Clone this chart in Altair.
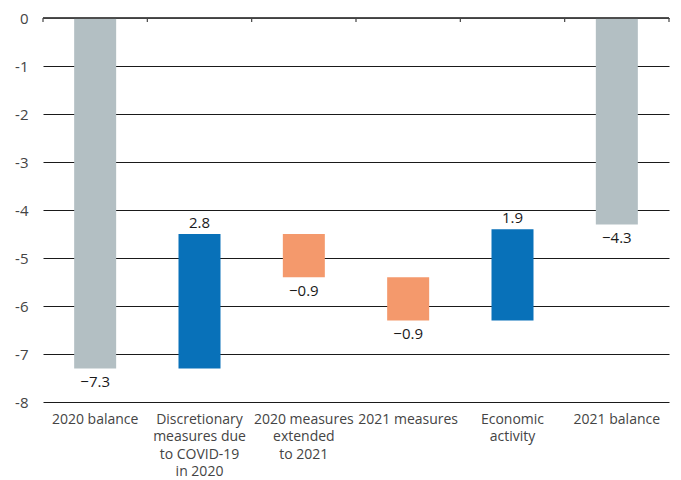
import altair as alt
import pandas as pd

cats = ["2020 balance",
        "Discretionary\nmeasures due\nto COVID-19\nin 2020",
        "2020 measures\nextended\nto 2021",
        "2021 measures",
        "Economic\nactivity",
        "2021 balance"]
starts = [0, -7.3, -4.5, -5.4, -6.3, 0]
ends = [-7.3, -4.5, -5.4, -6.3, -4.4, -4.3]
kinds = ["balance", "increase", "decrease", "decrease", "increase", "balance"]
labels = ["\u22127.3", "2.8", "\u22120.9", "\u22120.9", "1.9", "\u22124.3"]

df = pd.DataFrame({"cat": cats, "start": starts, "end": ends, "kind": kinds, "label": labels})
df["top"] = df[["start", "end"]].max(axis=1)
df["bottom"] = df[["start", "end"]].min(axis=1)
df["above"] = df["kind"] == "increase"

FONT = "Open Sans"

xenc = alt.X("cat:N", sort=cats, title=None,
             scale=alt.Scale(paddingInner=0, paddingOuter=0),
             axis=alt.Axis(labelExpr="split(datum.label, '\\n')", labelAngle=0,
                           labelFont=FONT, labelFontSize=14, labelColor="#444444",
                           labelLineHeight=17.5, labelPadding=10, domain=False, ticks=False,
                           labelLimit=200))
yscale = alt.Scale(domain=[-8, 0], nice=False, zero=False)

base = alt.Chart(df)

bars = base.mark_bar(size=42).encode(
    x=xenc,
    y=alt.Y("start:Q", scale=yscale, title=None,
            axis=alt.Axis(values=list(range(-8, 1)), labelExpr="'' + datum.value",
                          grid=True, gridColor="#1a1a1a", gridWidth=1,
                          domain=False, ticks=False, labelFont=FONT, labelFontSize=15,
                          labelColor="#444444", labelPadding=15)),
    y2="end:Q",
    color=alt.Color("kind:N", legend=None,
                    scale=alt.Scale(domain=["balance", "increase", "decrease"],
                                    range=["#b3bfc3", "#0871b9", "#f4996c"])),
)

zero_line = base.mark_rule(color="#444444", strokeWidth=1.5).encode(
    y=alt.YDatum(0)
).transform_filter("datum.kind == 'balance'")

ticks_left = base.mark_rule(color="#444444", strokeWidth=1.2).encode(
    x=alt.X("cat:N", sort=cats, bandPosition=0),
    y=alt.YDatum(0),
    y2=alt.value(4),
)
ticks_right = base.mark_rule(color="#444444", strokeWidth=1.2).encode(
    x=alt.X("cat:N", sort=cats, bandPosition=1),
    y=alt.YDatum(0),
    y2=alt.value(4),
).transform_filter(alt.datum.cat == cats[-1])

text_above = base.mark_text(baseline="bottom", dy=-3, font=FONT, fontSize=15,
                            fontWeight=500, color="#1a1a1a").encode(
    x=alt.X("cat:N", sort=cats),
    y=alt.Y("top:Q"),
    text="label:N",
).transform_filter("datum.above")

text_below = base.mark_text(baseline="top", dy=7, font=FONT, fontSize=15,
                            fontWeight=500, color="#1a1a1a").encode(
    x=alt.X("cat:N", sort=cats),
    y=alt.Y("bottom:Q"),
    text="label:N",
).transform_filter("!datum.above")

chart = alt.layer(bars, zero_line, ticks_left, ticks_right, text_above, text_below).properties(
    width=626, height=384,
    padding={"left": 43, "top": 18, "right": 12, "bottom": 78},
    autosize="none",
    background="white",
).configure_view(stroke=None)

chart.save("out.html", embed_options={"renderer": "svg", "actions": False})
